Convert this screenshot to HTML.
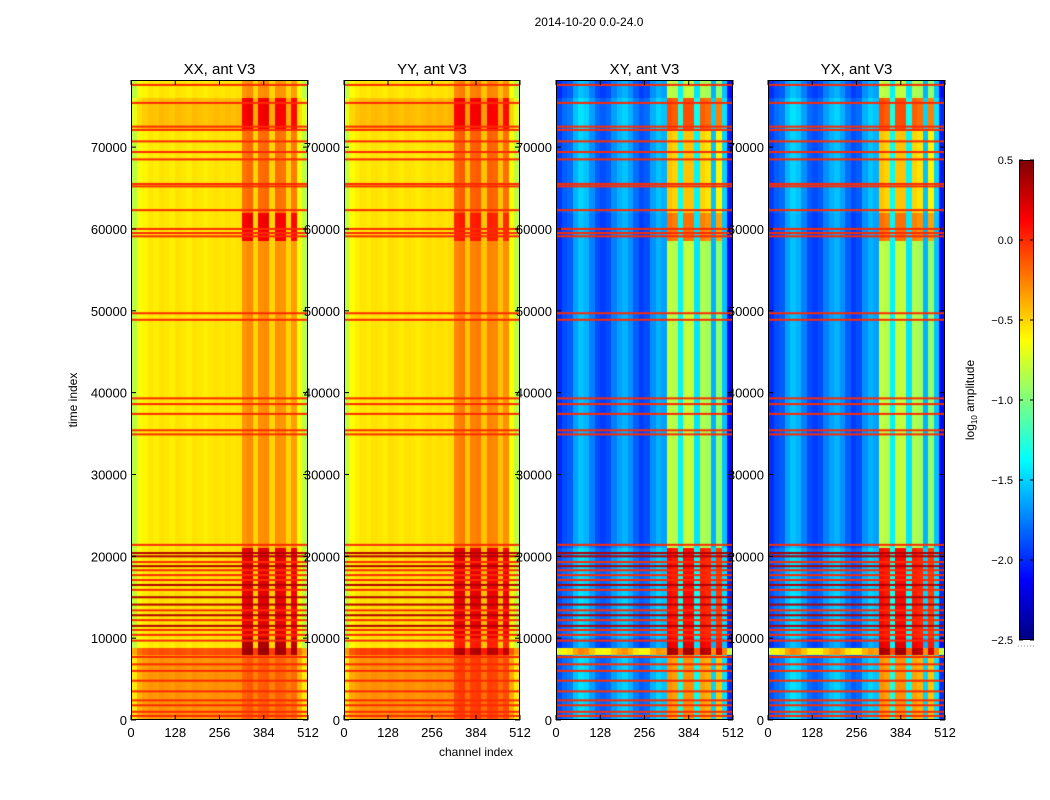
<!DOCTYPE html>
<html><head><meta charset="utf-8">
<style>
body{margin:0;background:#fff;width:1050px;height:800px;overflow:hidden;font-family:"Liberation Sans","DejaVu Sans",sans-serif;}
canvas{position:absolute;}
svg{position:absolute;left:0;top:0;}
</style></head>
<body>
<canvas id="c0" width="177" height="640" style="left:131px;top:80px"></canvas>
<canvas id="c1" width="176" height="640" style="left:344px;top:80px"></canvas>
<canvas id="c2" width="177" height="640" style="left:556px;top:80px"></canvas>
<canvas id="c3" width="177" height="640" style="left:768px;top:80px"></canvas>
<canvas id="cb" width="15" height="480" style="left:1019px;top:160px"></canvas>
<svg id="ov" width="1050" height="800"></svg>
<script>
// ---- data ----
const panelTitles = ["XX, ant V3","YY, ant V3","XY, ant V3","YX, ant V3"];
const xTickLabels = [0,128,256,384,512];
const yTickLabels = [0,10000,20000,30000,40000,50000,60000,70000];
const cbTickLabels = [0.5,0.0,-0.5,-1.0,-1.5,-2.0,-2.5];
const xxProfile = [-0.82,-0.65,-0.6,-0.56,-0.58,-0.54,-0.56,-0.58,-0.54,-0.56,-0.58,-0.54,-0.56,-0.58,-0.56,-0.54,-0.56,-0.54,-0.56,-0.54,-0.32,-0.28,-0.5,-0.3,-0.28,-0.5,-0.3,-0.32,-0.5,-0.34,-0.65,-0.82];
const yyProfile = [-0.82,-0.63,-0.58,-0.55,-0.57,-0.54,-0.55,-0.57,-0.53,-0.55,-0.57,-0.54,-0.55,-0.57,-0.55,-0.53,-0.55,-0.53,-0.55,-0.53,-0.28,-0.24,-0.45,-0.26,-0.24,-0.45,-0.26,-0.28,-0.45,-0.3,-0.63,-0.82];
const xyProfile = [-2.0,-1.9,-1.85,-1.65,-1.55,-1.6,-1.75,-1.9,-1.95,-1.9,-1.75,-1.65,-1.6,-1.7,-1.85,-1.95,-1.9,-1.7,-1.6,-1.65,-0.8,-0.85,-1.4,-0.8,-0.8,-1.45,-0.85,-0.9,-1.6,-0.95,-1.55,-2.1];
const yxProfile = [-2.0,-1.9,-1.85,-1.65,-1.55,-1.6,-1.75,-1.9,-1.95,-1.9,-1.75,-1.65,-1.6,-1.7,-1.85,-1.95,-1.9,-1.7,-1.6,-1.65,-0.8,-0.85,-1.4,-0.8,-0.8,-1.45,-0.85,-0.9,-1.6,-0.95,-1.55,-2.1];
const bandMask = [0,0,0,0,0,0,0,0,0,0,0,0,0,0,0,0,0,0,0,0,1,1,0,1,1,0,1,1,0,1,0,0];
const segStarts = [0,8000,8800,10000,21000,58500,62000,72000,76000];
const xxBaseOff = [0.25,0.45,0,0.02,0,0,0,0.12,0];
const xxBandOff = [0.15,0.7,0.65,0.5,0,0.45,0.1,0.45,0];
const yyBaseOff = [0.25,0.5,0,0.02,0,0,0,0.12,0];
const yyBandOff = [0.2,0.6,0.3,0.45,0,0.3,0.1,0.4,0];
const xyBaseOff = [0.1,1.3,0,0.1,0,0,0.05,0.1,0];
const xyBandOff = [0.5,1.2,1.0,0.9,0,0.6,0.35,0.7,0];
const flagTimes = [77600,75400,72500,72100,70700,69400,68500,65500,65200,62300,60000,59500,59100,49700,48900,39300,38600,37400,35400,34900,21400,20400,20000,19300,18800,18300,17700,17100,16500,15900,15000,14100,13400,12800,12200,11500,11000,10400,9700,7700,6800,6000,4800,3500,2400,1800,1000,500];
const flagValues = [0,0,0,0,0,0,0,0,0,0,0,0,0,0,0,0,0,0,0,0,0,0.35,0.35,0,0.35,0,0,0,0.35,0,0.35,0.35,0,0.35,0,0.35,0,0,0,0,0,0,0,0,0,0,0,0];
// ---- geometry ----
const tMax = 78200, vmin = -2.5, vmax = 0.5;
const panels = [
 {x:131,w:177,prof:xxProfile,base:xxBaseOff,band:xxBandOff},
 {x:344,w:176,prof:yyProfile,base:yyBaseOff,band:yyBandOff},
 {x:556,w:177,prof:xyProfile,base:xyBaseOff,band:xyBandOff},
 {x:768,w:177,prof:yxProfile,base:xyBaseOff,band:xyBandOff}];
const plotTop=80, plotBottom=720;
function yScale(t){return plotBottom-(t/tMax)*(plotBottom-plotTop);}
function jet(v){
 let x=(v-vmin)/(vmax-vmin); x=Math.max(0,Math.min(1,x));
 const f=(a)=>Math.max(0,Math.min(1,a));
 const r=f(Math.min(4*x-1.5,-4*x+4.5)), g=f(Math.min(4*x-0.5,-4*x+3.5)), b=f(Math.min(4*x+0.5,-4*x+2.5));
 return [r*255|0,g*255|0,b*255|0];
}
function segIndex(t){let i=0;for(let k=0;k<segStarts.length;k++){if(t>=segStarts[k])i=k;}return i;}
panels.forEach((p,pi)=>{
 const cv=document.getElementById('c'+pi), ctx=cv.getContext('2d');
 const img=ctx.createImageData(p.w,640);
 for(let py=0;py<640;py++){
  const t=tMax*(1-(py+0.5)/640), s=segIndex(t);
  for(let px=0;px<p.w;px++){
   const ch=512*(px+0.5)/p.w, b=Math.min(31,Math.floor(ch/16));
   const v=p.prof[b]+(bandMask[b]?p.band[s]:p.base[s]);
   const c=jet(v), o=(py*p.w+px)*4;
   img.data[o]=c[0];img.data[o+1]=c[1];img.data[o+2]=c[2];img.data[o+3]=255;
  }
 }
 ctx.putImageData(img,0,0);
 flagTimes.forEach((ft,i)=>{
  const c=jet(flagValues[i]);
  ctx.fillStyle='rgb('+c.join(',')+')';
  ctx.fillRect(0,yScale(ft)-plotTop-1,p.w,2);
 });
});
// colorbar
(function(){const ctx=document.getElementById('cb').getContext('2d');
 for(let y=0;y<480;y++){const c=jet(vmax-(vmax-vmin)*(y+0.5)/480);ctx.fillStyle='rgb('+c.join(',')+')';ctx.fillRect(0,y,15,1);}})();
// overlay
const NS='http://www.w3.org/2000/svg', svgRoot=document.getElementById('ov');
function el(tag,attrs,txt){const e=document.createElementNS(NS,tag);for(const k in attrs)e.setAttribute(k,attrs[k]);if(txt!==undefined)e.textContent=txt;svgRoot.appendChild(e);return e;}
let e=el('text',{x:589,y:26,'font-size':12,'text-anchor':'middle'},'2014-10-20 0.0-24.0');


panels.forEach((p,pi)=>{
 const r=el('rect',{x:p.x+0.5,y:plotTop+0.5,width:p.w-1,height:plotBottom-plotTop-1,fill:'none',stroke:'#000','stroke-width':1});
 
 
 const tt=el('text',{x:p.x+p.w/2,y:74,'font-size':15,'text-anchor':'middle'},panelTitles[pi]);
 
 
 xTickLabels.forEach(v=>{
  const x=p.x+v/512*p.w;
  el('line',{x1:x,x2:x,y1:plotBottom,y2:plotBottom-5,stroke:'#000'});
  el('line',{x1:x,x2:x,y1:plotTop,y2:plotTop+5,stroke:'#000'});
  const l=el('text',{x:x,y:737,'font-size':13,'text-anchor':'middle'},String(v));
  
  
 });
 yTickLabels.forEach(v=>{
  const y=yScale(v);
  el('line',{x1:p.x,x2:p.x+5,y1:y,y2:y,stroke:'#000'});
  el('line',{x1:p.x+p.w,x2:p.x+p.w-5,y1:y,y2:y,stroke:'#000'});
  const l=el('text',{x:p.x-4,y:y+5,'font-size':13,'text-anchor':'end'},String(v));
  
  
 });
});
e=el('text',{x:476,y:756,'font-size':12,'text-anchor':'middle'},'channel index');


e=el('text',{x:0,y:0,'font-size':12,'text-anchor':'middle',transform:'translate(77,400) rotate(-90)'},'time index');


e=el('rect',{x:1019.5,y:160.5,width:14,height:479,fill:'none',stroke:'#000'});


cbTickLabels.forEach(v=>{
 const y=160+(vmax-v)/(vmax-vmin)*480;
 el('line',{x1:1019,x2:1023,y1:y,y2:y,stroke:'#000'});
 el('line',{x1:1034,x2:1030,y1:y,y2:y,stroke:'#000'});
 const l=el('text',{x:1013,y:y+4,'font-size':11,'text-anchor':'end'},(v<0?'\u2212':'')+Math.abs(v).toFixed(1));
 
 
});
el('line',{x1:1018,x2:1034,y1:646,y2:646,stroke:'#999','stroke-dasharray':'1,2'});
e=el('text',{x:0,y:0,'font-size':12,'text-anchor':'middle',transform:'translate(974,400) rotate(-90)'});


const ts1=document.createElementNS(NS,'tspan');ts1.textContent='log';e.appendChild(ts1);
const ts2=document.createElementNS(NS,'tspan');ts2.setAttribute('font-size','8');ts2.setAttribute('dy','3');ts2.textContent='10';e.appendChild(ts2);
const ts3=document.createElementNS(NS,'tspan');ts3.setAttribute('dy','-3');ts3.textContent=' amplitude';e.appendChild(ts3);
</script>
</body></html>
